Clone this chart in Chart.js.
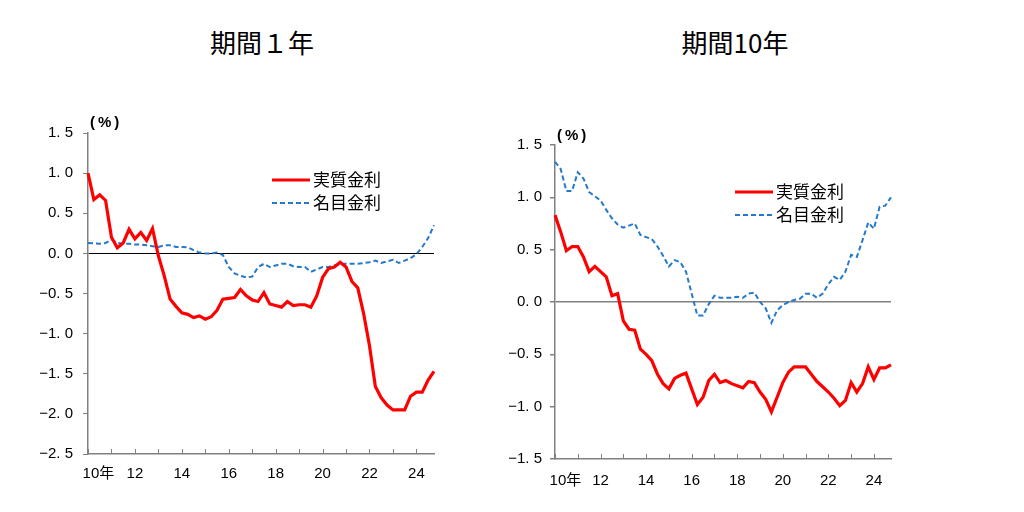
<!DOCTYPE html>
<html>
<head>
<meta charset="utf-8">
<script src="https://cdn.jsdelivr.net/npm/chart.js@4.4.1/dist/chart.umd.min.js"></script>
<style>
  body { margin: 0; background: #fff; }
  #page { position: relative; width: 1024px; height: 512px; overflow: hidden; }
  .title { position: absolute; top: 26px; width: 200px; text-align: center;
           font: 26px "Noto Sans CJK JP", sans-serif; color: #000; line-height: 32px; }
  .box { position: absolute; }
</style>
</head>
<body>
<div id="page">
  <div class="title" style="left:162px">期間１年</div>
  <div class="title" style="left:635px">期間10年</div>
  <div class="box" style="left:30px; top:110px; width:420px; height:400px"><canvas id="c1"></canvas></div>
  <div class="box" style="left:500px; top:120px; width:400px; height:390px"><canvas id="c2"></canvas></div>
</div>
<script>
// quarterly, 2010Q1 .. 2024Q4
const years = [10, 11, 12, 13, 14, 15, 16, 17, 18, 19, 20, 21, 22, 23, 24];
const quarters = years.flatMap(y => [1, 2, 3, 4].map(q => y + 'Q' + q));

const seriesNames = ['実質金利', '名目金利'];

// 期間1年
const real1 = [1.00, 0.67, 0.73, 0.66, 0.20, 0.07, 0.13, 0.30, 0.18, 0.26, 0.16, 0.31,
  -0.03, -0.28, -0.57, -0.66, -0.74, -0.76, -0.80, -0.78, -0.82, -0.79, -0.71, -0.57,
  -0.56, -0.55, -0.45, -0.53, -0.58, -0.60, -0.49, -0.63, -0.65, -0.67, -0.60, -0.65,
  -0.64, -0.64, -0.67, -0.53, -0.30, -0.19, -0.17, -0.11, -0.17, -0.35, -0.43, -0.75,
  -1.15, -1.66, -1.80, -1.89, -1.95, -1.95, -1.95, -1.78, -1.73, -1.73, -1.58, -1.47];
const nominal1 = [0.13, 0.125, 0.12, 0.13, 0.17, 0.13, 0.12, 0.12, 0.11, 0.11, 0.10, 0.09,
  0.08, 0.10, 0.10, 0.08, 0.08, 0.075, 0.04, 0.01, 0.0, 0.0, 0.01, -0.02,
  -0.17, -0.25, -0.28, -0.30, -0.29, -0.17, -0.13, -0.17, -0.15, -0.13, -0.13, -0.16,
  -0.17, -0.17, -0.23, -0.20, -0.17, -0.17, -0.15, -0.13, -0.13, -0.13, -0.13, -0.12,
  -0.11, -0.09, -0.12, -0.10, -0.08, -0.12, -0.09, -0.06, -0.01, 0.08, 0.19, 0.35];

// 期間10年
const real10 = [0.83, 0.67, 0.49, 0.53, 0.53, 0.43, 0.29, 0.34, 0.29, 0.24, 0.06, 0.08,
  -0.18, -0.26, -0.27, -0.45, -0.50, -0.56, -0.69, -0.78, -0.83, -0.73, -0.70, -0.68,
  -0.83, -0.98, -0.91, -0.75, -0.69, -0.77, -0.75, -0.78, -0.80, -0.82, -0.76, -0.77,
  -0.86, -0.93, -1.05, -0.91, -0.77, -0.67, -0.62, -0.62, -0.62, -0.69, -0.76, -0.81,
  -0.86, -0.92, -0.99, -0.94, -0.77, -0.86, -0.78, -0.62, -0.74, -0.63, -0.63, -0.60];
const nominal10 = [1.34, 1.27, 1.06, 1.06, 1.24, 1.18, 1.05, 1.01, 0.97, 0.88, 0.80, 0.74,
  0.71, 0.73, 0.75, 0.64, 0.62, 0.60, 0.53, 0.44, 0.34, 0.40, 0.38, 0.29,
  0.08, -0.13, -0.13, -0.02, 0.06, 0.04, 0.04, 0.04, 0.05, 0.04, 0.08, 0.09,
  0.00, -0.06, -0.20, -0.08, -0.03, 0.00, 0.02, 0.03, 0.08, 0.08, 0.04, 0.08,
  0.17, 0.24, 0.21, 0.29, 0.45, 0.43, 0.59, 0.76, 0.70, 0.91, 0.92, 1.00];

const RED = '#FF0000';
const BLUE = '#2479C9';
const AXIS = '#808080';
const NUM_FONT = '"Liberation Sans", "Noto Sans CJK JP", sans-serif';

// tick marks on the x axis point up into the plot; also the (%) unit and inline legend
const decor = {
  id: 'decor',
  afterDraw(chart, args, opts) {
    const { ctx, chartArea } = chart;
    const xs = chart.scales.x;
    ctx.save();
    ctx.strokeStyle = AXIS;
    ctx.lineWidth = 1;
    xs.ticks.forEach((t, i) => {
      if (i % 4 !== 0) return;
      const px = Math.round(xs.getPixelForTick(i)) + 0.5;
      ctx.beginPath();
      ctx.moveTo(px, chartArea.bottom);
      ctx.lineTo(px, chartArea.bottom - 5);
      ctx.stroke();
    });

    ctx.fillStyle = '#000';
    ctx.font = 'bold 15px ' + NUM_FONT;
    ctx.textBaseline = 'middle';
    ctx.textAlign = 'left';
    ctx.fillText('(\u2009%\u2009)', chartArea.left + 2, chartArea.top - opts.unitDy);

    ctx.font = '17px "Noto Sans CJK JP", sans-serif';
    chart.data.datasets.forEach((ds, k) => {
      const lx = chartArea.left + opts.legendX;
      const ly = chartArea.top + opts.legendY + k * 23;
      ctx.strokeStyle = ds.borderColor;
      ctx.lineWidth = ds.borderWidth;
      ctx.setLineDash(ds.borderDash || []);
      ctx.beginPath();
      ctx.moveTo(lx, ly);
      ctx.lineTo(lx + 38, ly);
      ctx.stroke();
      ctx.setLineDash([]);
      ctx.fillText(ds.label, lx + 41, ly);
    });
    ctx.restore();
  }
};

function fmtY(v) {
  return v.toFixed(1).replace('-', '−').replace('.', '. ');
}

function makeChart(id, real, nominal, cfg) {
  return new Chart(document.getElementById(id), {
    type: 'line',
    data: {
      labels: quarters,
      datasets: [
        { label: seriesNames[0], data: real, borderColor: RED, borderWidth: 3.2,
          pointRadius: 0, tension: 0 },
        { label: seriesNames[1], data: nominal, borderColor: BLUE, borderWidth: 2,
          borderDash: [5, 3], pointRadius: 0, tension: 0 }
      ]
    },
    options: {
      responsive: true,
      maintainAspectRatio: false,
      animation: false,
      layout: { padding: { top: cfg.padTop, right: cfg.padRight, left: 0, bottom: 0 } },
      plugins: {
        legend: { display: false },
        tooltip: { enabled: false },
        decor: { legendX: cfg.legendX, legendY: 47, unitDy: cfg.unitDy }
      },
      scales: {
        x: {
          type: 'category',
          offset: false,
          grid: { display: false },
          border: { color: AXIS, width: 1.5 },
          afterFit: s => { s.height = cfg.xHeight; },
          ticks: {
            autoSkip: false,
            maxRotation: 0,
            minRotation: 0,
            padding: cfg.xPad,
            color: '#000',
            font: { family: NUM_FONT, size: 15 },
            callback: function (value) {
              const q = this.getLabelForValue(value);
              const yr = parseInt(q, 10);
              if (!q.endsWith('Q1') || yr % 2 !== 0) return '';
              return yr === 10 ? '\u2007\u2007 10年' : String(yr);
            }
          }
        },
        y: {
          min: cfg.yMin,
          max: cfg.yMax,
          border: { color: AXIS, width: 1.5 },
          afterFit: s => { s.width = cfg.yWidth; },
          grid: {
            color: c => (c.tick && c.tick.value === 0 ? cfg.zeroColor : 'transparent'),
            lineWidth: cfg.zeroWidth,
            tickColor: AXIS,
            tickLength: 5,
            drawOnChartArea: true
          },
          ticks: {
            stepSize: 0.5,
            padding: cfg.yPad,
            color: '#000',
            font: { family: NUM_FONT, size: 15 },
            callback: v => fmtY(v)
          }
        }
      }
    },
    plugins: [decor]
  });
}

makeChart('c1', real1, nominal1, {
  yMin: -2.5, yMax: 1.5, yWidth: 58, xHeight: 56, padTop: 23, padRight: 16,
  xPad: 3, yPad: 10, zeroColor: '#000', zeroWidth: 1, legendX: 184, unitDy: 10
});
makeChart('c2', real10, nominal10, {
  yMin: -1.5, yMax: 1.5, yWidth: 55, xHeight: 51, padTop: 25, padRight: 9,
  xPad: 5, yPad: 8, zeroColor: AXIS, zeroWidth: 1.5, legendX: 180, unitDy: 9
});
</script>
</body>
</html>
